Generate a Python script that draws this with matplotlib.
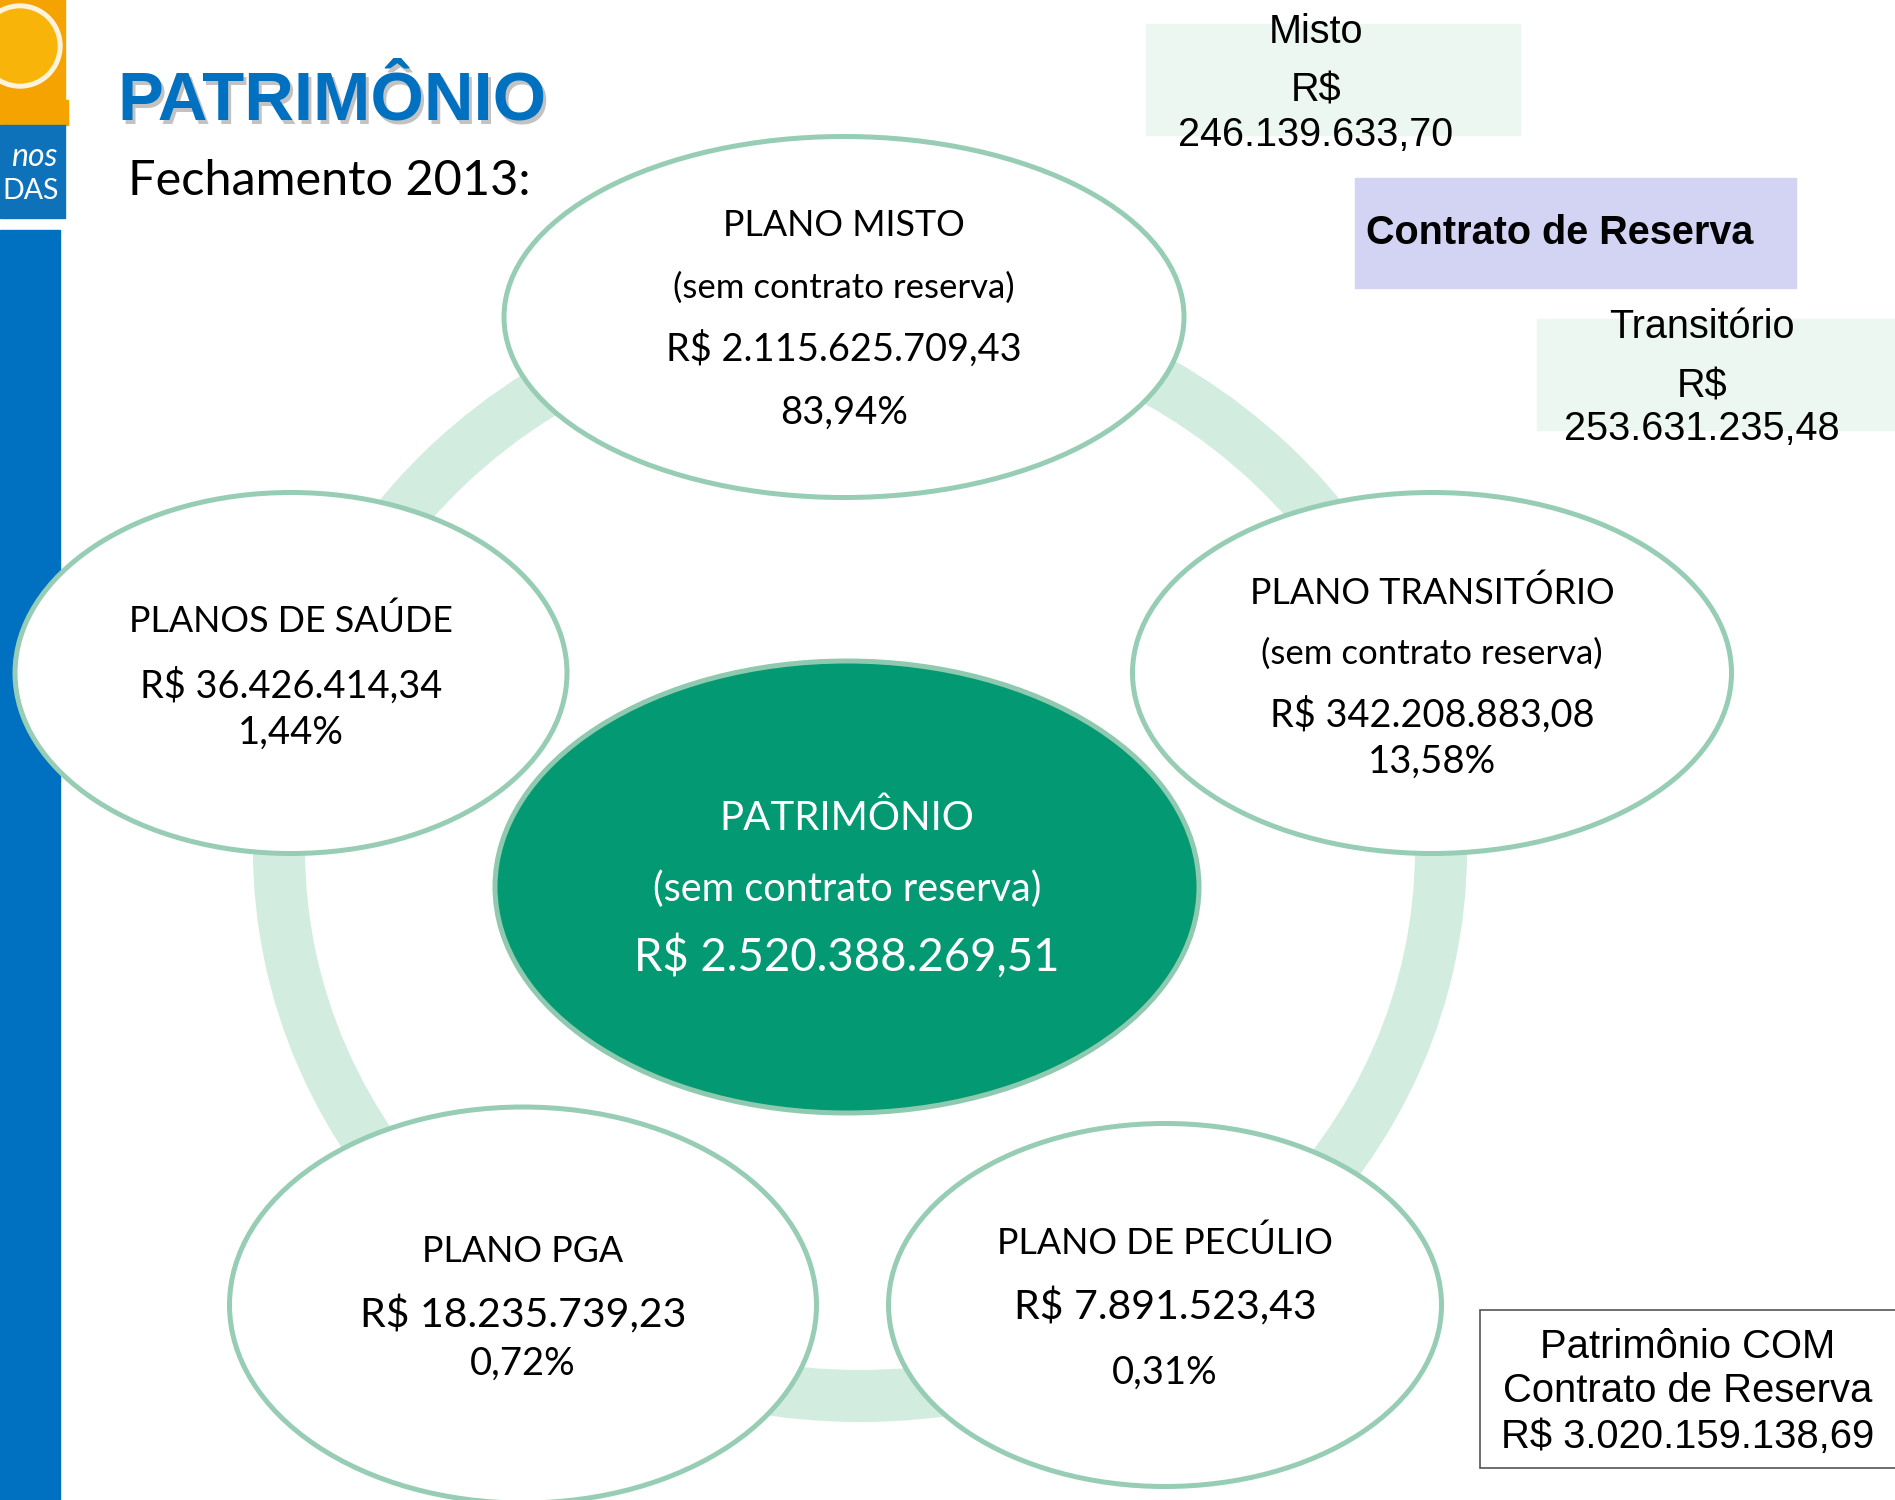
import matplotlib
matplotlib.use("Agg")
import matplotlib.pyplot as plt
from matplotlib.patches import Ellipse, Rectangle

# --- data ---
node_titles = ['PLANO MISTO', 'PLANO TRANSITÓRIO', 'PLANO DE PECÚLIO', 'PLANO PGA', 'PLANOS DE SAÚDE']
node_notes = ['(sem contrato reserva)', '(sem contrato reserva)', '', '', '']
node_values = ['R$ 2.115.625.709,43', 'R$ 342.208.883,08', 'R$ 7.891.523,43',
               'R$ 18.235.739,23', 'R$ 36.426.414,34']
node_shares = ['83,94%', '13,58%', '0,31%', '0,72%', '1,44%']

center_title = 'PATRIMÔNIO'
center_note = '(sem contrato reserva)'
center_value = 'R$ 2.520.388.269,51'

reserve_labels = ['Misto', 'Transitório']
reserve_values = ['246.139.633,70', '253.631.235,48']
reserve_title = 'Contrato de Reserva'
total_lines = ['Patrimônio COM', 'Contrato de Reserva', 'R$ 3.020.159.138,69']

# --- layout (pixel coords, y down) ---
node_boxes = [(844, 317, 680, 361), (1432, 673, 599, 361), (1165, 1305, 553, 363),
              (523, 1305, 587, 396), (291, 673, 552, 361)]
node_lines_y = [[225, 288, 349, 413], [593, 654, 715, 762], [1243, None, 1307, 1373],
                [1251, None, 1315, 1364], [621, None, 686, 733]]
value_sizes = [27.4, 27.4, 29.5, 29.5, 27.4]

BORDER = '#97CDB4'
RING = '#D2EDE0'
BLUE = '#0070C0'
cal = ['Lato', 'DejaVu Sans']
arial = ['Liberation Sans', 'DejaVu Sans']

fig = plt.figure(figsize=(18.95, 15), dpi=100)
ax = fig.add_axes([0, 0, 1, 1])
ax.set_xlim(0, 1895)
ax.set_ylim(1500, 0)
ax.axis('off')

# logo + left bar
ax.add_patch(Rectangle((0, 0), 65, 125, color='#F4A300', zorder=1))
ax.add_patch(Ellipse((20, 46), 84, 84, color='#FDF3DC', zorder=2))
ax.add_patch(Ellipse((20, 46), 74, 74, color='#F9B40A', zorder=3))
ax.add_patch(Rectangle((0, 100), 68, 25, color='#F4A300', zorder=3))
ax.add_patch(Rectangle((0, 125), 65, 93, color='#0D72BA', zorder=3))
ax.text(57, 157, 'nos', color='white', fontsize=23, style='italic', family=cal,
        ha='right', va='center', zorder=4)
ax.text(59, 191, 'DAS', color='white', fontsize=20.5, family=cal,
        ha='right', va='center', zorder=4)
ax.add_patch(Rectangle((0, 230), 60, 1270, color=BLUE, zorder=1))

# title
ax.text(120, 105, 'PATRIMÔNIO', color='#9A9A9A', fontsize=49.5, fontweight='bold',
        family=arial, ha='left', va='center', alpha=0.6)
ax.text(117, 102, 'PATRIMÔNIO', color=BLUE, fontsize=49.5, fontweight='bold',
        family=arial, ha='left', va='center')
ax.text(128, 181, 'Fechamento 2013:', color='black', fontsize=35, family=cal,
        ha='left', va='center')

# ring behind nodes
ax.add_patch(Ellipse((860, 850), 2 * 581, 2 * 546, fill=False, edgecolor=RING,
                     lw=37.5, zorder=1))

# center node
ax.add_patch(Ellipse((847, 887), 704, 452, facecolor='#039972', edgecolor='#8FCAB0',
                     lw=3.6, zorder=2))
ax.text(847, 818, center_title, color='white', fontsize=29, family=cal,
        ha='center', va='center', zorder=3)
ax.text(847, 889, center_note, color='white', fontsize=28.5, family=cal,
        ha='center', va='center', zorder=3)
ax.text(847, 956, center_value, color='white', fontsize=32.8, family=cal,
        ha='center', va='center', zorder=3)

# outer nodes
for i, (cx, cy, w, h) in enumerate(node_boxes):
    ax.add_patch(Ellipse((cx, cy), w, h, facecolor='white', edgecolor=BORDER,
                         lw=3.6, zorder=2))
    texts = [node_titles[i], node_notes[i], node_values[i], node_shares[i]]
    sizes = [25.8, 25, value_sizes[i], 27.5]
    for t, y, s in zip(texts, node_lines_y[i], sizes):
        if y is None or t == '':
            continue
        ax.text(cx, y, t, color='black', fontsize=s, family=cal,
                ha='center', va='center', zorder=3)

# reserve boxes top right
ax.add_patch(Rectangle((1146, 24), 374, 111, color='#EDF7F1', zorder=1))
ax.text(1316, 32, reserve_labels[0], fontsize=28.5, family=arial, ha='center', va='center', zorder=3)
ax.text(1316, 91, 'R$', fontsize=28.5, family=arial, ha='center', va='center', zorder=3)
ax.text(1316, 135, reserve_values[0], fontsize=28.5, family=arial, ha='center', va='center', zorder=3)

ax.add_patch(Rectangle((1355, 178), 441, 110, color='#D3D3F3', zorder=1))
ax.text(1366, 233, reserve_title, fontsize=28.5, fontweight='bold', family=arial,
        ha='left', va='center', zorder=3)

ax.add_patch(Rectangle((1537, 319), 360, 111, color='#EDF7F1', zorder=1))
ax.text(1702, 327, reserve_labels[1], fontsize=28.5, family=arial, ha='center', va='center', zorder=3)
ax.text(1702, 386, 'R$', fontsize=28.5, family=arial, ha='center', va='center', zorder=3)
ax.text(1702, 429, reserve_values[1], fontsize=28.5, family=arial, ha='center', va='center', zorder=3)

# total box bottom right
ax.add_patch(Rectangle((1480, 1310), 430, 158, facecolor='white', edgecolor='#555555',
                       lw=1.2, zorder=1))
for t, y in zip(total_lines, [1347, 1391, 1437]):
    ax.text(1688, y, t, fontsize=28.8, family=arial, ha='center', va='center', zorder=3)

fig.savefig('out.png', dpi=100)
